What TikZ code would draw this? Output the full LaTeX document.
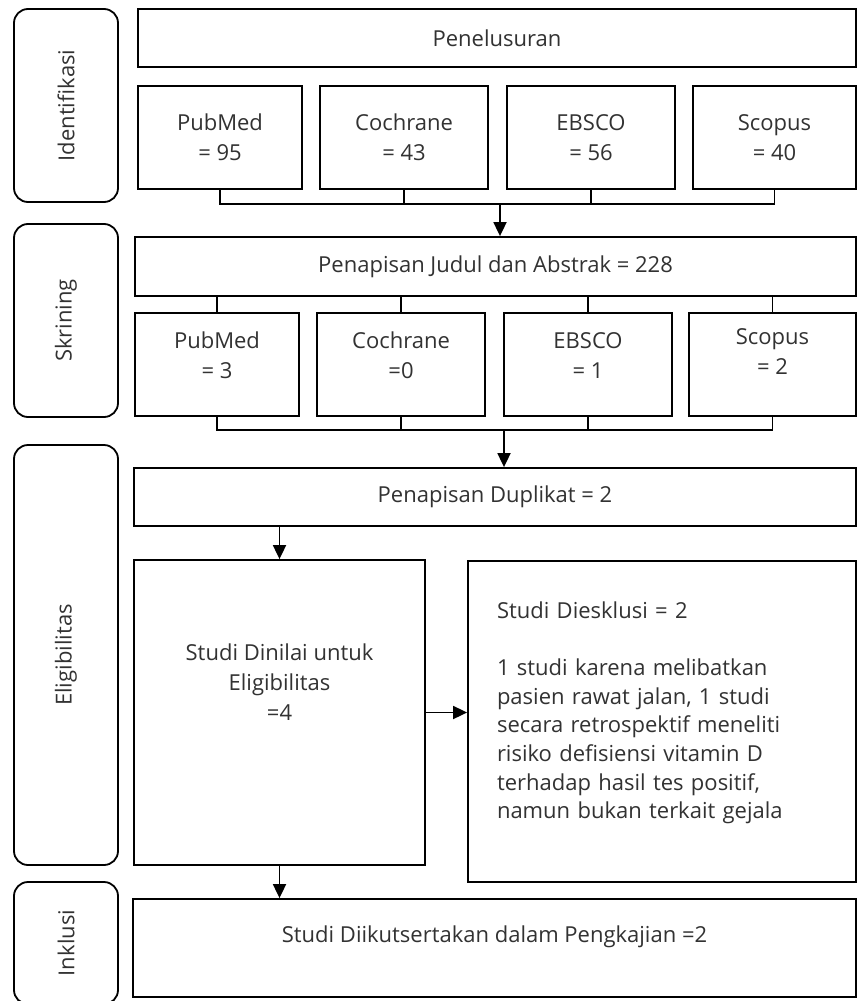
\documentclass[tikz,border=0pt]{standalone}
\usepackage{fontspec}
\setmainfont{Open Sans}
\usepackage{xcolor}
\usetikzlibrary{arrows.meta, positioning}
\definecolor{ctext}{RGB}{50,50,50}
\tikzset{
  box/.style={rectangle, draw=black, line width=0.9pt, fill=white,
              font=\fontsize{11}{15}\selectfont, text=ctext, align=center,
              inner sep=2pt},
  phase/.style={rectangle, rounded corners=7pt, draw=black, line width=0.9pt,
                font=\fontsize{11}{13}\selectfont, text=ctext, rotate=90,
                minimum height=52pt, inner sep=2pt},
  arr/.style={-{Triangle[length=7pt,width=6.5pt]}, line width=0.9pt},
  ln/.style={line width=0.9pt},
}

\begin{document}
\begin{tikzpicture}[x=0.5pt, y=-0.5pt]
  \useasboundingbox (0,0) rectangle (858,1001);

  % ── Phases ─────────────────────────────────────────────────────────────────
  \node[phase, minimum width=96.5pt] at (66,105.5) (iden) {Identifikasi};
  \node[phase, minimum width=96.5pt] at (66,320.5) (skri) {Skrining};
  \node[phase, minimum width=210pt]  at (66,655)   (elig) {Eligibilitas};
  \node[phase, minimum width=61pt]   at (66,943)   (inkl) {Inklusi};

  % ── Identifikasi ───────────────────────────────────────────────────────────
  \node[box, minimum width=359pt, minimum height=29pt] at (497,38) (pen)
      {Penelusuran};
  \node[box, minimum width=82pt, minimum height=51.5pt] at (220,137.5) (pub1)
      {PubMed\\= 95};
  \node[box, minimum width=84pt, minimum height=51.5pt] at (404,137.5) (coc1)
      {Cochrane\\= 43};
  \node[box, minimum width=84pt, minimum height=51.5pt] at (591,137.5) (ebs1)
      {EBSCO\\= 56};
  \node[box, minimum width=81.5pt, minimum height=51.5pt] at (774.5,137.5) (sco1)
      {Scopus\\= 40};
  \coordinate (bus1) at (500,204);

  % ── Skrining ───────────────────────────────────────────────────────────────
  \node[box, minimum width=360.5pt, minimum height=29.5pt] at (495.5,266.5) (scr)
      {Penapisan Judul dan Abstrak = 228};
  \node[box, minimum width=82pt, minimum height=51.5pt] at (217,364.5) (pub2)
      {PubMed\\= 3\\[-6pt]\mbox{}};
  \node[box, minimum width=84pt, minimum height=51.5pt] at (401,364.5) (coc2)
      {Cochrane\\=0\\[-6pt]\mbox{}};
  \node[box, minimum width=84pt, minimum height=51.5pt] at (588,364.5) (ebs2)
      {EBSCO\\= 1\\[-6pt]\mbox{}};
  \node[box, minimum width=83.5pt, minimum height=51.5pt] at (772.5,364.5) (sco2)
      {Scopus\\= 2\\[-2pt]\mbox{}};
  \coordinate (bus2) at (504,430);

  % ── Eligibilitas ───────────────────────────────────────────────────────────
  \node[box, minimum width=361pt, minimum height=29pt] at (495,497) (dup)
      {Penapisan Duplikat = 2};
  \node[box, minimum width=145.5pt, minimum height=152.5pt] at (279.5,712.5) (nil)
      {Studi Dinilai untuk\\Eligibilitas\\=4\\[15pt]\mbox{}};
  \node[box, align=left, text width=165pt, inner xsep=14.5pt,
        font=\fontsize{11}{14.3}\selectfont,
        minimum height=160.5pt] at (662,721.5) (eks)
      {Studi Diesklusi = 2\\[14.3pt]
       1 studi karena melibatkan\\
       pasien rawat jalan, 1 studi\\
       secara retrospektif meneliti\\
       risiko defisiensi vitamin D\\
       terhadap hasil tes positif,\\
       namun bukan terkait gejala\\[-3pt]\mbox{}};

  % ── Inklusi ────────────────────────────────────────────────────────────────
  \node[box, minimum width=361.5pt, minimum height=49pt] at (494.5,948) (inc)
      {Studi Diikutsertakan dalam Pengkajian =2\\[-1pt]\mbox{}};

  % ── Connectors ─────────────────────────────────────────────────────────────
  \draw[ln] (pub1.south) |- (sco1.south |- bus1) -- (sco1.south);
  \draw[ln] (coc1.south) -- (coc1.south |- bus1);
  \draw[ln] (ebs1.south) -- (ebs1.south |- bus1);
  \draw[arr] (bus1) -- (bus1 |- scr.north);

  \draw[ln] (pub2.north) -- (pub2.north |- scr.south);
  \draw[ln] (coc2.north) -- (coc2.north |- scr.south);
  \draw[ln] (ebs2.north) -- (ebs2.north |- scr.south);
  \draw[ln] (sco2.north) -- (sco2.north |- scr.south);

  \draw[ln] (pub2.south) |- (sco2.south |- bus2) -- (sco2.south);
  \draw[ln] (coc2.south) -- (coc2.south |- bus2);
  \draw[ln] (ebs2.south) -- (ebs2.south |- bus2);
  \draw[arr] (bus2) -- (bus2 |- dup.north);

  \draw[arr] (nil.north |- dup.south) -- (nil.north);
  \draw[arr] (nil.east) -- (nil.east -| eks.west);
  \draw[arr] (nil.south) -- (nil.south |- inc.north);
\end{tikzpicture}
\end{document}
